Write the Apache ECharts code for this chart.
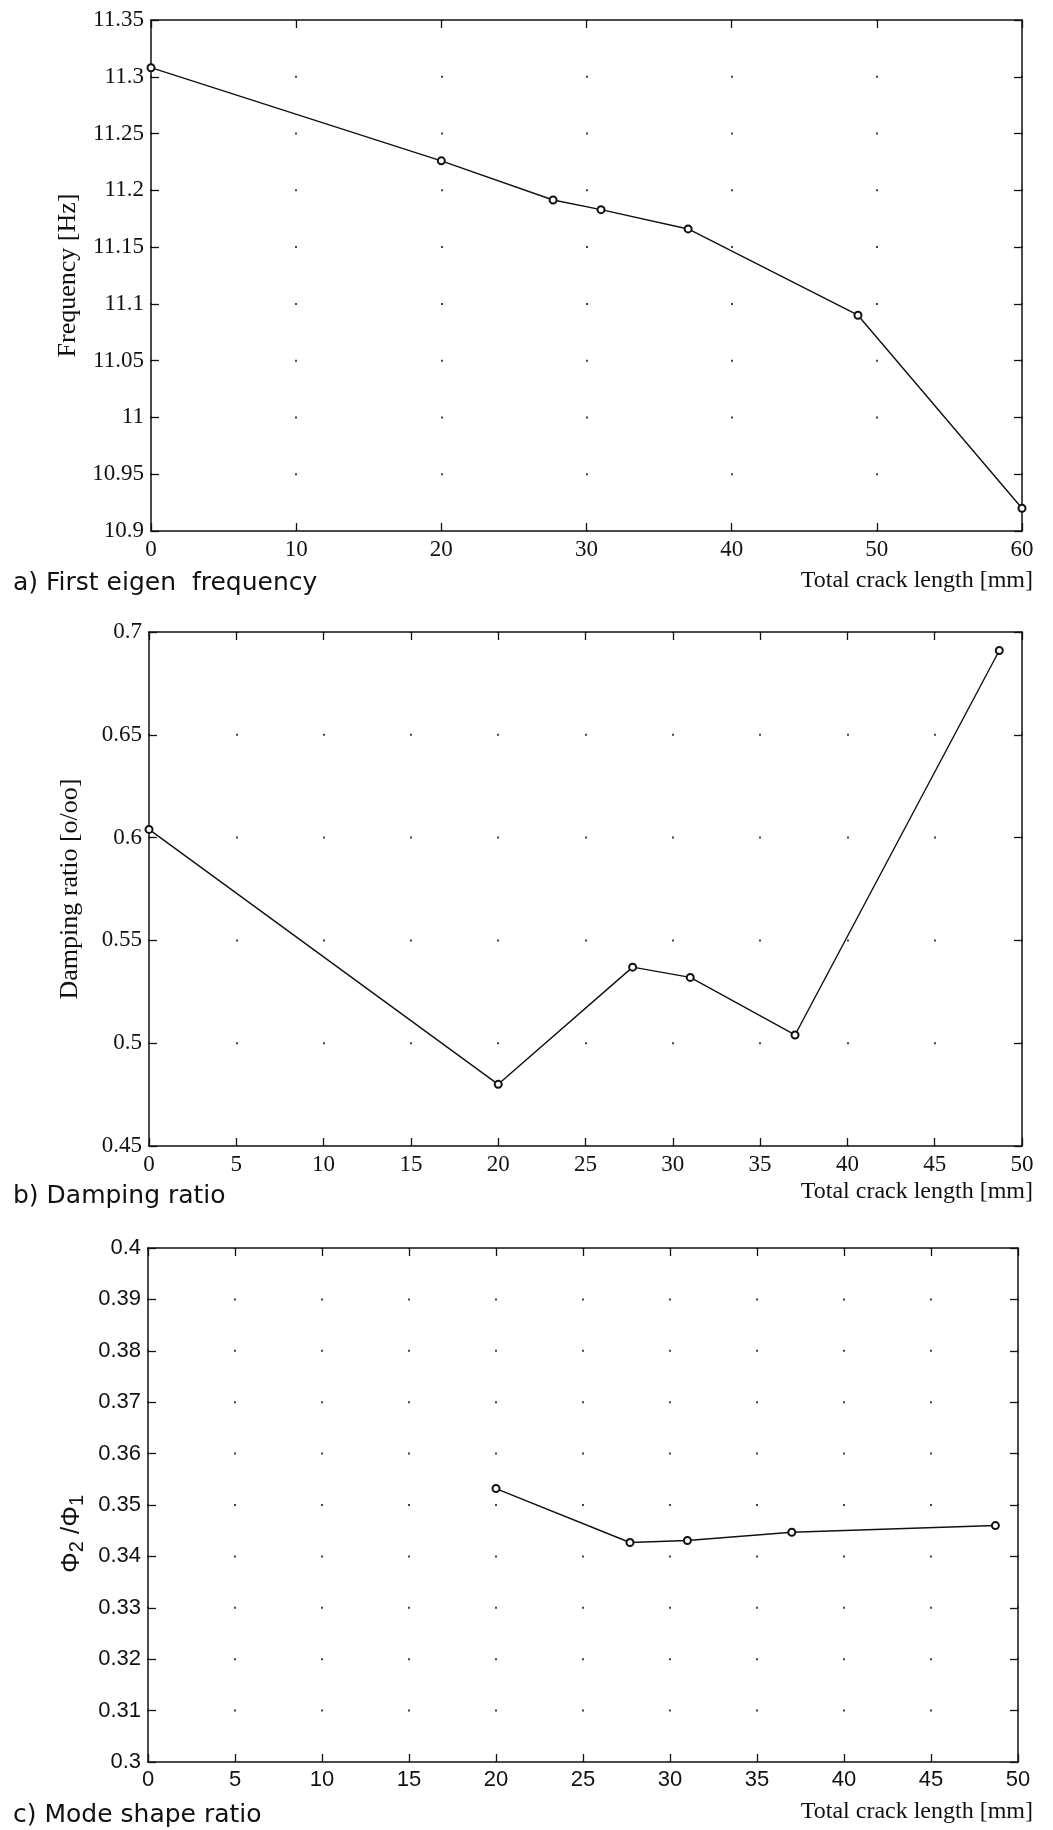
<!DOCTYPE html>
<html><head><meta charset="utf-8">
<script src="https://cdn.jsdelivr.net/npm/echarts@6/dist/echarts.min.js"></script>
<style>html,body{margin:0;padding:0;background:#fff}#c{width:1053px;height:1830px}</style>
</head><body><div id="c"></div>
<script>
// ---- data ----
const crackA = [0, 20, 27.7, 31, 37, 48.7, 60];
const freqA  = [11.308, 11.226, 11.1915, 11.183, 11.166, 11.090, 10.920];
const crackB = [0, 20, 27.7, 31, 37, 48.7];
const dampB  = [0.604, 0.480, 0.537, 0.532, 0.504, 0.691];
const crackC = [20, 27.7, 31, 37, 48.7];
const ratioC = [0.3532, 0.3427, 0.3431, 0.3447, 0.3460];
const captions = ['a) First eigen  frequency', 'b) Damping ratio', 'c) Mode shape ratio'];
const xTitle = 'Total crack length [mm]';
const yTitles = ['Frequency [Hz]', 'Damping ratio [o/oo]', '{p|\u03A6}{s|2}{p| /\u03A6}{s|1}{g| }'];

const SERIF = "'Liberation Serif', 'DejaVu Serif', serif";
const SANS = "'Liberation Sans', Arial, sans-serif";
const CAP = "'DejaVu Sans', Lato, sans-serif";

const grids = [
  {left: 151, top: 20, width: 871, height: 511},
  {left: 149, top: 632, width: 873, height: 514},
  {left: 148, top: 1248, width: 870, height: 514}
];
const ranges = [
  {xmin: 0, xmax: 60, xi: 10, ymin: 10.9, ymax: 11.35, yi: 0.05, font: SERIF, gap: 66, yfont: SERIF, fs: 23},
  {xmin: 0, xmax: 50, xi: 5, ymin: 0.45, ymax: 0.7, yi: 0.05, font: SERIF, gap: 66, yfont: SERIF, fs: 23},
  {xmin: 0, xmax: 50, xi: 5, ymin: 0.3, ymax: 0.4, yi: 0.01, font: SANS, gap: 57, yfont: SANS, fs: 22}
];

const nameRich = {
  p: {fontFamily: SANS, fontSize: 26, lineHeight: 30, verticalAlign: 'middle', color: '#111'},
  s: {fontFamily: SANS, fontSize: 20, lineHeight: 20, verticalAlign: 'bottom', color: '#111'},
  g: {width: 58, fontSize: 10}
};

const xAxes = [], yAxes = [];
ranges.forEach((r, i) => {
  const g = grids[i];
  const nY = Math.round((r.ymax - r.ymin) / r.yi);
  const sp = g.height / nY;
  const line = {show: true, onZero: false, lineStyle: {color: '#111', width: 1.5}};
  const tick = {show: true, inside: true, length: 8, lineStyle: {color: '#111', width: 1.3}};
  xAxes.push({
    gridIndex: i, type: 'value', min: r.xmin, max: r.xmax, interval: r.xi, position: 'bottom',
    axisLine: line, axisTick: tick,
    axisLabel: {fontFamily: r.font, fontSize: r.fs, color: '#111', margin: 7},
    splitLine: {show: true, lineStyle: {color: '#444', width: 2, type: [2, sp - 2], dashOffset: 1}}
  });
  xAxes.push({
    gridIndex: i, type: 'value', min: r.xmin, max: r.xmax, interval: r.xi, position: 'top',
    axisLine: line, axisTick: tick, axisLabel: {show: false}, splitLine: {show: false}
  });
  const nts = {fontFamily: r.yfont, fontSize: 26, color: '#111'};
  if (i === 2) nts.rich = nameRich;
  yAxes.push({
    gridIndex: i, type: 'value', min: r.ymin, max: r.ymax, interval: r.yi, position: 'left',
    axisLine: line, axisTick: tick,
    axisLabel: {fontFamily: r.font, fontSize: r.fs, color: '#111', margin: 7},
    splitLine: {show: false},
    name: yTitles[i], nameLocation: 'middle', nameGap: r.gap, nameRotate: 90,
    nameTextStyle: nts
  });
  yAxes.push({
    gridIndex: i, type: 'value', min: r.ymin, max: r.ymax, interval: r.yi, position: 'right',
    axisLine: line, axisTick: tick, axisLabel: {show: false}, splitLine: {show: false}
  });
});

function pairs(xs, ys) { return xs.map((x, k) => [x, ys[k]]); }
const seriesData = [pairs(crackA, freqA), pairs(crackB, dampB), pairs(crackC, ratioC)];
const series = seriesData.map((d, i) => ({
  type: 'line', xAxisIndex: i * 2, yAxisIndex: i * 2, data: d,
  symbol: 'emptyCircle', symbolSize: 7, showAllSymbol: true,
  lineStyle: {color: '#111', width: 1.4},
  itemStyle: {color: '#111', borderWidth: 1.3},
  clip: false
}));

const capTops = [571, 1184, 1803];
const xTitleTops = [569, 1180, 1800];
const titles = [];
captions.forEach((c, i) => {
  titles.push({text: c, left: 13, top: capTops[i], padding: 0,
    textStyle: {fontFamily: CAP, fontSize: 25, fontWeight: 'normal', color: '#111'}});
  titles.push({text: xTitle, right: 20, top: xTitleTops[i], padding: 0,
    textStyle: {fontFamily: SERIF, fontSize: 24, fontWeight: 'normal', color: '#111'}});
});

const chart = echarts.init(document.getElementById('c'), null, {renderer: 'canvas'});
chart.setOption({
  animation: false,
  backgroundColor: '#fff',
  title: titles,
  grid: grids,
  xAxis: xAxes,
  yAxis: yAxes,
  series: series
});
</script>
</body></html>
